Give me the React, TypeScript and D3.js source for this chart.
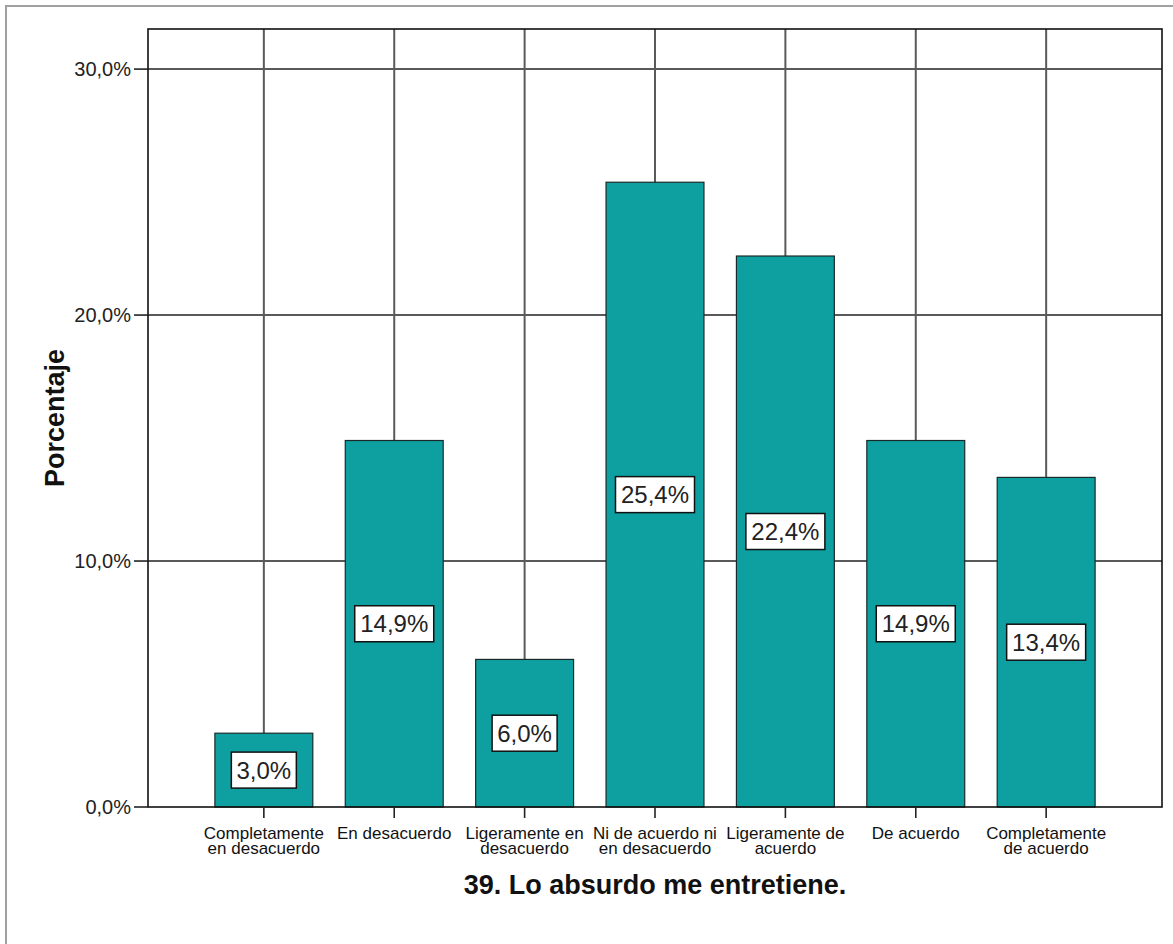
import React from "react";
import * as d3 from "d3";

const categories: string[][] = [
  ["Completamente", "en desacuerdo"],
  ["En desacuerdo"],
  ["Ligeramente en", "desacuerdo"],
  ["Ni de acuerdo ni", "en desacuerdo"],
  ["Ligeramente de", "acuerdo"],
  ["De acuerdo"],
  ["Completamente", "de acuerdo"],
];
const values: number[] = [3.0, 14.9, 6.0, 25.4, 22.4, 14.9, 13.4];
const yTicks: number[] = [0, 10, 20, 30];
const xTitle = "39. Lo absurdo me entretiene.";
const yTitle = "Porcentaje";

const fmt = (v: number) => v.toFixed(1).replace(".", ",") + "%";

export default function App() {
  const W = 1173, H = 944;
  const left = 148, right = 1162, top = 29, bottom = 807;
  const font = "'Liberation Sans', Arial, sans-serif";
  const x = d3
    .scaleBand<number>()
    .domain(d3.range(values.length))
    .range([left, right])
    .paddingInner(0.249)
    .paddingOuter(0.513);
  const y = d3.scaleLinear().domain([0, 31.63]).range([bottom, top]);
  const teal = "#0ea0a0";
  const grid = "#5a5a5a";

  return (
    <svg width={W} height={H} style={{ position: "absolute", left: 0, top: 0, background: "#fff" }}>
      <rect x={0} y={0} width={W} height={H} fill="#fff" />
      <rect x={6} y={6} width={W + 10} height={H + 10} fill="none" stroke="#a0a0a0" strokeWidth={2} />
      {/* horizontal grid */}
      {yTicks.filter((t) => t > 0).map((t) => (
        <line key={"h" + t} x1={left} x2={right} y1={y(t)} y2={y(t)} stroke={grid} strokeWidth={2} />
      ))}
      {/* vertical grid */}
      {values.map((_, i) => {
        const cx = (x(i) as number) + x.bandwidth() / 2;
        return <line key={"v" + i} x1={cx} x2={cx} y1={top} y2={bottom} stroke={grid} strokeWidth={2} />;
      })}
      {/* bars */}
      {values.map((v, i) => (
        <rect
          key={"b" + i}
          x={x(i) as number}
          y={y(v)}
          width={x.bandwidth()}
          height={bottom - y(v)}
          fill={teal}
          stroke="#1a2a2a"
          strokeWidth={1.2}
        />
      ))}
      {/* plot frame */}
      <rect x={left} y={top} width={right - left} height={bottom - top} fill="none" stroke="#111" strokeWidth={1.6} />
      {/* y ticks */}
      {yTicks.map((t) => (
        <g key={"yt" + t}>
          <line x1={134} x2={left} y1={y(t)} y2={y(t)} stroke="#222" strokeWidth={1.6} />
          <text x={131} y={y(t)} dy="0.35em" textAnchor="end" fontFamily={font} fontSize={20} fill="#222">
            {fmt(t)}
          </text>
        </g>
      ))}
      {/* x ticks and labels */}
      {categories.map((lines, i) => {
        const cx = (x(i) as number) + x.bandwidth() / 2;
        return (
          <g key={"xt" + i}>
            <line x1={cx} x2={cx} y1={bottom} y2={bottom + 11} stroke="#222" strokeWidth={1.6} />
            {lines.map((l, j) => (
              <text key={j} x={cx} y={839 + j * 15} textAnchor="middle" fontFamily={font} fontSize={17} fill="#111">
                {l}
              </text>
            ))}
          </g>
        );
      })}
      {/* bar labels */}
      {values.map((v, i) => {
        const cx = (x(i) as number) + x.bandwidth() / 2;
        const cy = y(v / 2);
        const label = fmt(v);
        const tw = label.length === 4 ? 55 : 69;
        return (
          <g key={"l" + i}>
            <rect x={cx - tw / 2 - 5} y={cy - 18} width={tw + 10} height={36} fill="#fff" stroke="#111" strokeWidth={1.5} />
            <text x={cx} y={cy} dy="0.36em" textAnchor="middle" fontFamily={font} fontSize={24} fill="#222">
              {label}
            </text>
          </g>
        );
      })}
      {/* axis titles */}
      <text x={(left + right) / 2} y={894} textAnchor="middle" fontFamily={font} fontWeight="bold" fontSize={27} fill="#111">
        {xTitle}
      </text>
      <text
        transform={`translate(${64},${(top + bottom) / 2}) rotate(-90)`}
        textAnchor="middle"
        fontFamily={font}
        fontWeight="bold"
        fontSize={27}
        fill="#111"
      >
        {yTitle}
      </text>
    </svg>
  );
}
